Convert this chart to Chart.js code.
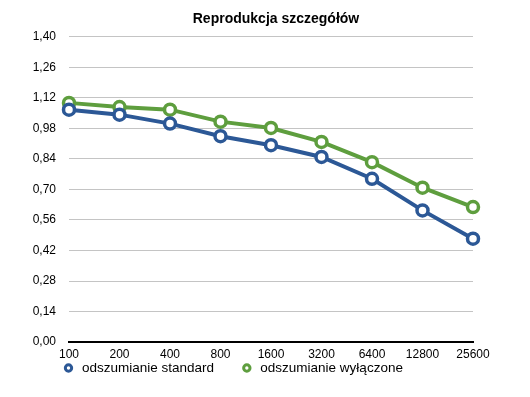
<!DOCTYPE html>
<html><head><meta charset="utf-8">
<script src="https://cdn.jsdelivr.net/npm/chart.js@4"></script>
<style>html,body{margin:0;padding:0;background:#fff}canvas{display:block}</style>
</head><body>
<canvas id="c" width="530" height="397"></canvas>
<script>
const categories = ['100','200','400','800','1600','3200','6400','12800','25600'];
const standardValues = [1.066,1.043,1.002,0.944,0.903,0.849,0.749,0.604,0.474];
const offValues = [1.097,1.078,1.066,1.011,0.982,0.918,0.825,0.708,0.619];
const seriesNames = ['odszumianie standard','odszumianie wyłączone'];
const yTicks = [0,0.14,0.28,0.42,0.56,0.70,0.84,0.98,1.12,1.26,1.40];
const titleText = 'Reprodukcja szczegółów';

const blue = '#2c5896';
const green = '#5e9e3e';
const font = 'Liberation Sans, Arial, Helvetica, sans-serif';

const placeBlocks = {
  id: 'placeBlocks',
  afterLayout(chart) {
    const lg = chart.legend;
    if (lg) { lg.left = 35.75; lg.top = 335.25; }
    const t = chart.titleBlock;
    if (t) { t.left = 69; t.right = 483; }
  }
};

new Chart(document.getElementById('c'), {
  type: 'line',
  data: {
    labels: categories,
    datasets: [
      {label: seriesNames[0], data: standardValues, borderColor: blue, backgroundColor: '#fff',
       borderWidth: 4, pointRadius: 5.5, pointBorderWidth: 3.5, pointBackgroundColor: '#fff', pointBorderColor: blue, tension: 0},
      {label: seriesNames[1], data: offValues, borderColor: green, backgroundColor: '#fff',
       borderWidth: 4, pointRadius: 5.5, pointBorderWidth: 3.5, pointBackgroundColor: '#fff', pointBorderColor: green, tension: 0}
    ]
  },
  plugins: [placeBlocks],
  options: {
    responsive: false,
    animation: false,
    devicePixelRatio: 1,
    layout: {padding: {left: 0, right: 57, top: 6, bottom: -19}},
    plugins: {
      title: {display: true, text: titleText, color: '#000',
        font: {family: font, size: 14, weight: 'bold'}, padding: {top: 5, bottom: 9}},
      legend: {position: 'bottom', align: 'start',
        labels: {usePointStyle: true, pointStyle: 'circle', boxWidth: 20.5, boxHeight: 4.5, color: '#000',
          font: {family: font, size: 13.5}, padding: 26,
          generateLabels: (chart) => chart.data.datasets.map((d, i) => ({
            text: d.label, fillStyle: '#fff', strokeStyle: d.borderColor, lineWidth: 3,
            pointStyle: 'circle', datasetIndex: i, hidden: false, fontColor: '#000'
          }))
        }},
      tooltip: {enabled: false}
    },
    scales: {
      x: {
        offset: false,
        grid: {display: false, drawTicks: false},
        border: {display: true, color: '#000', width: 2},
        ticks: {color: '#000', font: {family: font, size: 12}, padding: 5, maxRotation: 0, autoSkip: false}
      },
      y: {
        min: 0, max: 1.4,
        afterBuildTicks: (s) => { s.ticks = yTicks.map(v => ({value: v})); },
        afterFit: (s) => { s.width = 69; },
        grid: {color: '#c4c4c4', lineWidth: 1, drawTicks: false},
        border: {display: false},
        ticks: {color: '#000', font: {family: font, size: 12}, padding: 13,
          callback: (v) => Number(v).toFixed(2).replace('.', ',')}
      }
    }
  }
});
</script>
</body></html>
